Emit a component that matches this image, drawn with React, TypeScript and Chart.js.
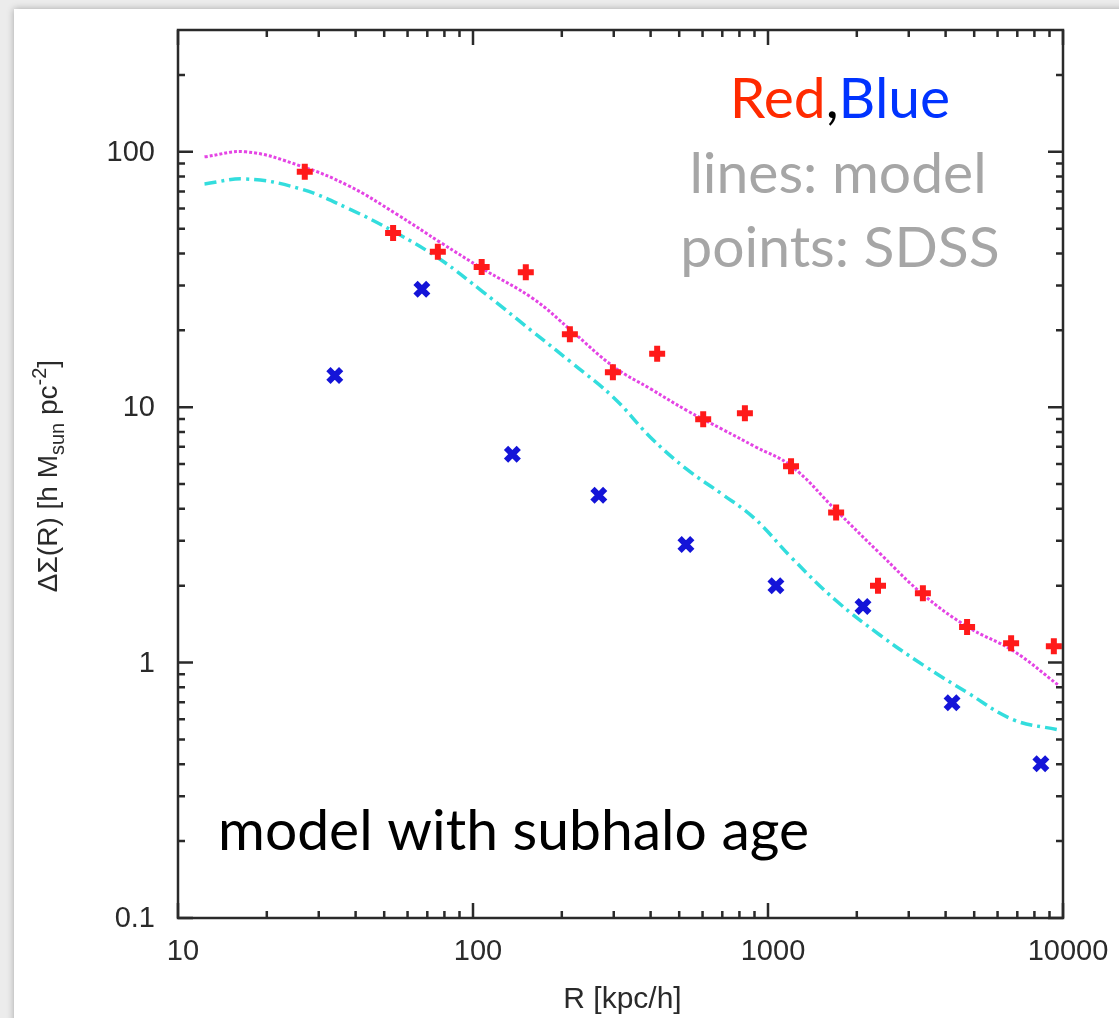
import React, { useEffect, useRef } from "react";
import { Chart, registerables } from "chart.js";

Chart.register(...registerables);

// ---- Data ----
const redR = [26.9, 53.6, 76, 107, 151, 213, 298, 421, 603, 835, 1197, 1702, 2360, 3350, 4730, 6670, 9310];
const redDS = [83.5, 48.1, 40.6, 35.4, 33.8, 19.3, 13.7, 16.2, 8.98, 9.47, 5.88, 3.87, 2.0, 1.87, 1.38, 1.19, 1.16];

const blueR = [34.0, 67.1, 136, 267, 527, 1064, 2099, 4207, 8414];
const blueDS = [13.3, 29.0, 6.55, 4.52, 2.9, 2.0, 1.66, 0.697, 0.402];

const modelR = [12.3, 17, 26, 38, 55, 78, 108, 160, 215, 300, 400, 530, 700, 900, 1200, 1700, 2400, 3350, 4750, 6800, 9600];
const modelRed = [95.6, 100, 88.1, 73.5, 57.1, 44.0, 34.8, 26.6, 20.0, 14.4, 11.8, 9.72, 8.2, 7.03, 5.88, 3.95, 2.67, 1.85, 1.38, 1.11, 0.82];
const modelBlue = [74.9, 78.3, 71.6, 59.8, 48.1, 37.7, 28.3, 19.7, 15.0, 10.9, 7.62, 5.72, 4.56, 3.67, 2.58, 1.75, 1.28, 0.98, 0.762, 0.597, 0.546];

const xMajorTicks = [10, 100, 1000, 10000];
const yMajorTicks = [0.1, 1, 10, 100];
const xTickLabels = ["10", "100", "1000", "10000"];
const yTickLabels = ["0.1", "1", "10", "100"];
const xMinorTicks = [20, 30, 40, 50, 60, 70, 80, 90, 200, 300, 400, 500, 600, 700, 800, 900, 2000, 3000, 4000, 5000, 6000, 7000, 8000, 9000];
const yMinorTicks = [0.2, 0.3, 0.4, 0.5, 0.6, 0.7, 0.8, 0.9, 2, 3, 4, 5, 6, 7, 8, 9, 20, 30, 40, 50, 60, 70, 80, 90, 200];

const xTitle = "R [kpc/h]";
const annotation = "model with subhalo age";

const W = 1119;
const H = 1018;

const framePlugin = {
  id: "framePlugin",
  afterDraw(chart: any) {
    const ctx = chart.ctx as CanvasRenderingContext2D;
    const { left, right, top, bottom } = chart.chartArea;
    const xs = chart.scales.x;
    const ys = chart.scales.y;
    ctx.save();
    ctx.strokeStyle = "#2a2a2a";
    ctx.lineWidth = 2.5;
    ctx.strokeRect(left, top, right - left, bottom - top);

    const major = 15;
    const minor = 7;
    ctx.lineWidth = 2.5;
    ctx.beginPath();
    const xt = (v: number, len: number) => {
      const p = xs.getPixelForValue(v);
      ctx.moveTo(p, bottom);
      ctx.lineTo(p, bottom - len);
      ctx.moveTo(p, top);
      ctx.lineTo(p, top + len);
    };
    const yt = (v: number, len: number) => {
      const p = ys.getPixelForValue(v);
      ctx.moveTo(left, p);
      ctx.lineTo(left + len, p);
      ctx.moveTo(right, p);
      ctx.lineTo(right - len, p);
    };
    xMajorTicks.forEach((v) => xt(v, major));
    xMinorTicks.forEach((v) => xt(v, minor));
    yMajorTicks.forEach((v) => yt(v, major));
    yMinorTicks.forEach((v) => yt(v, minor));
    ctx.stroke();

    // tick labels
    ctx.fillStyle = "#2a2a2a";
    ctx.font = "29px 'Liberation Sans', Arial, sans-serif";
    ctx.textAlign = "center";
    ctx.textBaseline = "middle";
    xMajorTicks.forEach((v, i) => {
      ctx.fillText(xTickLabels[i], xs.getPixelForValue(v) + 5, bottom + 34);
    });
    ctx.textAlign = "right";
    yMajorTicks.forEach((v, i) => {
      ctx.fillText(yTickLabels[i], left - 23, ys.getPixelForValue(v) + 1);
    });

    // x title
    ctx.textAlign = "center";
    ctx.font = "30px 'Liberation Sans', Arial, sans-serif";
    ctx.fillText(xTitle, (left + right) / 2 + 2, bottom + 82);

    // y title (rotated, with sub/superscript)
    const fs = 28;
    const small = 20;
    const parts: [string, number, number][] = [
      ["\u0394\u03a3(R) [h M", fs, 0],
      ["sun", small, 7],
      [" pc", fs, 0],
      ["-2", small, -11],
      ["]", fs, 0],
    ];
    let total = 0;
    parts.forEach(([t, s]) => {
      ctx.font = `${s}px 'Liberation Sans', Arial, sans-serif`;
      total += ctx.measureText(t).width;
    });
    ctx.translate(57, 476);
    ctx.rotate(-Math.PI / 2);
    ctx.textAlign = "left";
    ctx.textBaseline = "alphabetic";
    let x0 = -total / 2;
    parts.forEach(([t, s, off]) => {
      ctx.font = `${s}px 'Liberation Sans', Arial, sans-serif`;
      ctx.fillText(t, x0, off);
      x0 += ctx.measureText(t).width;
    });
    ctx.setTransform(1, 0, 0, 1, 0, 0);

    // annotations
    ctx.textBaseline = "alphabetic";
    ctx.font = "57px Lato, 'Open Sans', sans-serif";
    ctx.textAlign = "left";
    ctx.fillStyle = "#000000";
    ctx.fillText(annotation, 218, 850);

    // Red,Blue
    const redTxt = "Red";
    const comma = ",";
    const blueTxt = "Blue";
    const wr = ctx.measureText(redTxt).width;
    const wc = ctx.measureText(comma).width;
    const wb = ctx.measureText(blueTxt).width;
    let sx = 840 - (wr + wc + wb) / 2;
    ctx.fillStyle = "#ff2a00";
    ctx.fillText(redTxt, sx, 118);
    sx += wr;
    ctx.fillStyle = "#000000";
    ctx.fillText(comma, sx, 118);
    sx += wc;
    ctx.fillStyle = "#0033ff";
    ctx.fillText(blueTxt, sx, 118);

    ctx.fillStyle = "#a6a6a6";
    ctx.textAlign = "center";
    ctx.fillText("lines: model", 838, 193);
    ctx.fillText("points: SDSS", 840, 267);
    ctx.restore();
  },
};

export default function App() {
  const ref = useRef<HTMLCanvasElement | null>(null);
  useEffect(() => {
    if (!ref.current) return;
    const chart = new Chart(ref.current, {
      type: "scatter",
      data: {
        datasets: [
          {
            label: "SDSS red",
            data: redR.map((r, i) => ({ x: r, y: redDS[i] })),
            pointStyle: "cross",
            pointRadius: 8,
            borderWidth: 6,
            borderColor: "#ff1a1a",
            backgroundColor: "#ff1a1a",
            showLine: false,
            order: 0,
          },
          {
            label: "SDSS blue",
            data: blueR.map((r, i) => ({ x: r, y: blueDS[i] })),
            pointStyle: "crossRot",
            pointRadius: 9,
            borderWidth: 6,
            borderColor: "#1414d8",
            backgroundColor: "#1414d8",
            showLine: false,
            order: 0,
          },
          {
            label: "model red",
            data: modelR.map((r, i) => ({ x: r, y: modelRed[i] })),
            showLine: true,
            borderColor: "#e444e4",
            borderWidth: 3,
            borderDash: [3, 2],
            pointRadius: 0,
            tension: 0.4,
            order: 1,
          },
          {
            label: "model blue",
            data: modelR.map((r, i) => ({ x: r, y: modelBlue[i] })),
            showLine: true,
            borderColor: "#33dddd",
            borderWidth: 3.5,
            borderDash: [12, 5, 3, 5],
            pointRadius: 0,
            tension: 0.4,
            order: 1,
          },
        ],
      },
      options: {
        animation: false,
        responsive: false,
        devicePixelRatio: 1,
        layout: { padding: { left: 178, right: W - 1063, top: 30, bottom: H - 918 } },
        plugins: { legend: { display: false }, tooltip: { enabled: false } },
        scales: {
          x: { type: "logarithmic", min: 10, max: 10000, display: false },
          y: { type: "logarithmic", min: 0.1, max: 300, display: false },
        },
      },
      plugins: [framePlugin],
    } as any);
    return () => chart.destroy();
  }, []);

  return (
    <div style={{ position: "fixed", left: 0, top: 0, width: W, height: H, background: "#ececec", overflow: "hidden" }}>
      <div
        style={{
          position: "absolute",
          left: 14,
          top: 9,
          width: W,
          height: H,
          background: "#ffffff",
          boxShadow: "0 0 7px rgba(0,0,0,0.3)",
        }}
      />
      <canvas ref={ref} width={W} height={H} style={{ position: "absolute", left: 0, top: 0, width: W, height: H }} />
    </div>
  );
}
